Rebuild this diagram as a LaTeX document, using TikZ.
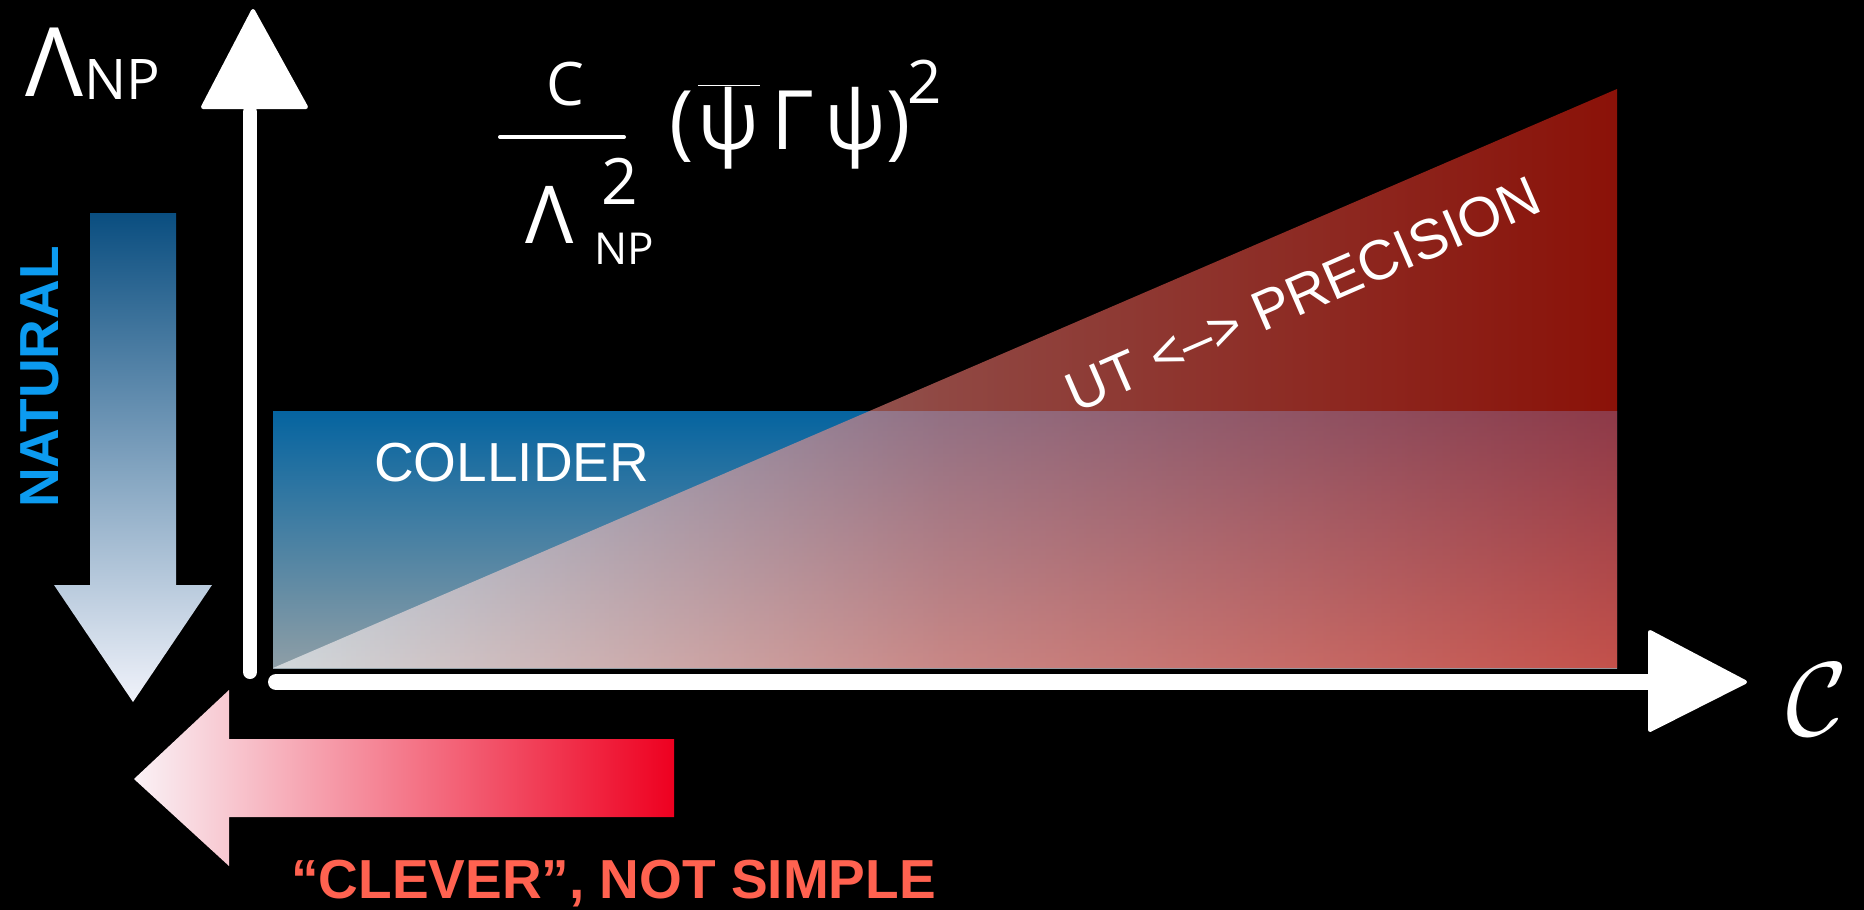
\documentclass[tikz,border=0pt]{standalone}
\usepackage{fix-cm}
\usepackage{fontspec}
\setmainfont{Liberation Sans}
\newfontfamily\handfont{Open Sans}
\newcommand{\setfs}[1]{\fontsize{#1}{#1}\selectfont}
\definecolor{natblue}{RGB}{12,155,240}
\definecolor{clevred}{RGB}{255,98,80}
\definecolor{arrdkblue}{RGB}{10,78,128}
\definecolor{arrltblue}{RGB}{240,242,250}
\definecolor{arrred}{RGB}{238,0,32}
\definecolor{arrltred}{RGB}{250,242,246}
\definecolor{recttop}{RGB}{5,100,160}
\definecolor{rectbot}{RGB}{142,158,166}
\definecolor{trired}{RGB}{232,30,14}
\definecolor{trimid}{RGB}{240,120,112}
\tikzset{
  lbl/.style={text=white, inner sep=0pt, font=\setfs{55}},
  boldlbl/.style={inner sep=0pt, font=\bfseries\setfs{55}},
  hand/.style={text=white, inner sep=0pt},
  axisline/.style={draw=white, line cap=round},
  headshape/.style={fill=white, draw=white, line width=4pt, line join=round},
}
\begin{document}
\begin{tikzpicture}[x=1pt,y=-1pt]
\fill[black] (0,0) rectangle (1864,910);
\useasboundingbox (0,0) rectangle (1864,910);

% collider region and precision triangle
\shade[top color=recttop, bottom color=rectbot] (273,411) rectangle (1617,668);
\shade[left color=white, right color=trired, middle color=trimid, fill opacity=0.6]
  (273,668) -- (1617,89) -- (1617,668) -- cycle;

% axes
\coordinate (yorig) at (250,672);
\coordinate (ytop) at (250,112);
\coordinate (xorig) at (276,682);
\coordinate (xend) at (1652,682);
\draw[axisline, line width=14pt] (yorig) -- (ytop);
\draw[axisline, line width=16pt] (xorig) -- (xend);
\filldraw[headshape] (253,11) -- (306,107) -- (203,107) -- cycle;
\filldraw[headshape] (1650,632) -- (1745,682) -- (1650,730) -- cycle;

% natural arrow
\shade[top color=arrdkblue, bottom color=arrltblue]
  (90,213) -- (176,213) -- (176,585) -- (212,585) -- (133,702) -- (54,585) -- (90,585) -- cycle;
% clever arrow
\shade[left color=arrltred, right color=arrred]
  (674,739) -- (229,739) -- (229,690) -- (134,779) -- (229,866) -- (229,817) -- (674,817) -- cycle;

% labels
\node[lbl, anchor=base west] (collider) at (374,481) {COLLIDER};
\node[lbl, rotate=23.5, font=\setfs{56}] (ut) at (1303,294) {UT <–> PRECISION};
\node[boldlbl, text=natblue, rotate=90] (natural) at (40,377) {NATURAL};
\node[boldlbl, text=clevred, anchor=base west] (clever) at (291,898) {“CLEVER”, NOT SIMPLE};

% axis labels
\node[hand, font=\handfont\setfs{96}] (lamaxis) at (54,62) {Λ};
\node[hand, font=\handfont\setfs{56}] (npaxis) at (122,80) {NP};
\node[hand, font=\setfs{105}] (clabel) at (1817,700) {$\mathcal{C}$};

% formula
\node[hand, font=\handfont\setfs{60}] (num) at (565,84) {C};
\coordinate (fracL) at (500,137);
\coordinate (fracR) at (624,137);
\draw[axisline, line width=4pt] (fracL) -- (fracR);
\node[hand, font=\handfont\setfs{80}] (den) at (550,215) {Λ};
\node[hand, font=\handfont\setfs{64}] (densup) at (620,181) {2};
\node[hand, font=\handfont\setfs{44}] (densub) at (624,249) {NP};
\node[hand, font=\handfont\setfs{82}] (bil) at (790,127)
  {(\hspace{0.05em}$\overline{\mbox{ψ}}$\hspace{0.15em}Γ\hspace{0.12em}ψ)};
\node[hand, font=\handfont\setfs{60}] (bilsup) at (925,82) {2};
\end{tikzpicture}
\end{document}
